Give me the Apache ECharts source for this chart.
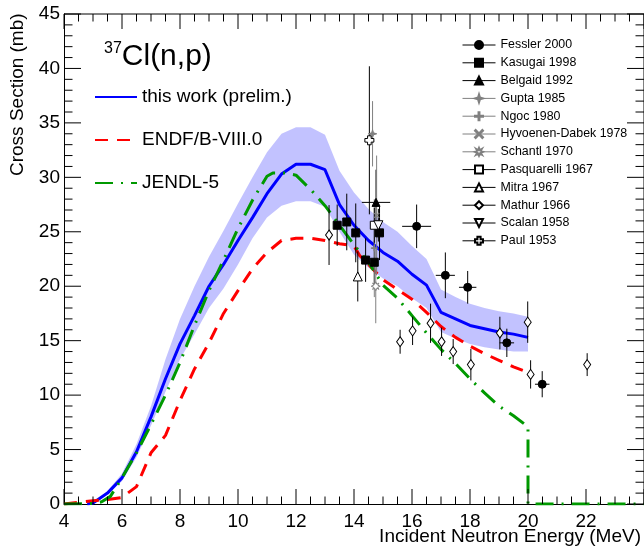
<!DOCTYPE html>
<html>
<head>
<meta charset="utf-8">
<script src="https://cdn.jsdelivr.net/npm/echarts@6/dist/echarts.min.js"></script>
<style>
  html, body { margin: 0; padding: 0; background: #fff; }
  #chart { width: 644px; height: 546px; }
</style>
</head>
<body>
<div id="chart"></div>
<script>
const FONT = 'Liberation Sans';

// axis ranges and major ticks
const xRange = [4, 24];
const yRange = [0, 45];
const xMajor = [4, 6, 8, 10, 12, 14, 16, 18, 20, 22, 24];
const yMajor = [0, 5, 10, 15, 20, 25, 30, 35, 40, 45];

// this work (prelim.) with uncertainty band
const workE  = [4.8, 5.0, 5.5, 6.0, 6.5, 7.0, 7.5, 8.0, 8.5, 9.0, 9.5, 10.0, 10.5, 11.0, 11.5, 12.0, 12.5, 13.0, 13.5, 14.0, 14.5, 15.0, 15.5, 16.0, 16.5, 17.0, 17.5, 18.0, 18.5, 19.0, 19.5, 20.0];
const workXS = [0, 0.1, 1.0, 2.4, 4.8, 8.0, 11.5, 14.7, 17.3, 20.0, 22.0, 24.2, 26.3, 28.5, 30.3, 31.2, 31.2, 30.7, 27.5, 25.6, 24.2, 23.1, 22.3, 21.1, 20.1, 17.6, 17.0, 16.4, 16.1, 15.8, 15.6, 15.3];
const workHi = [0, 0.1, 1.2, 2.8, 5.5, 9.0, 13.3, 17.0, 20.0, 22.7, 25.1, 27.6, 30.0, 32.3, 34.0, 34.6, 34.6, 33.9, 30.6, 28.6, 27.1, 25.9, 25.0, 23.7, 22.5, 19.7, 19.0, 18.4, 18.0, 17.7, 17.5, 17.2];
const workLo = [0, 0.1, 0.9, 2.1, 4.3, 7.2, 10.3, 13.3, 15.6, 18.0, 19.8, 22.0, 24.4, 26.3, 27.4, 27.8, 27.8, 27.3, 25.0, 22.9, 21.7, 20.7, 20.0, 18.9, 18.0, 15.8, 15.2, 14.7, 14.4, 14.2, 14.0, 14.0];

// ENDF/B-VIII.0
const endfE  = [4.0, 5.0, 5.5, 6.0, 6.5, 7.0, 7.5, 8.0, 8.5, 9.0, 9.5, 10.0, 10.5, 11.0, 11.5, 12.0, 12.5, 13.0, 13.5, 14.0, 14.2, 14.5, 15.0, 15.5, 16.0, 16.5, 17.0, 17.5, 18.0, 18.5, 19.0, 19.5, 20.0];
const endfXS = [0, 0.3, 0.4, 0.6, 1.6, 4.7, 6.3, 9.5, 12.4, 14.8, 17.5, 19.6, 21.6, 23.1, 24.2, 24.4, 24.4, 24.2, 23.9, 23.7, 22.8, 22.0, 20.6, 19.7, 18.8, 17.6, 16.3, 15.3, 14.5, 13.8, 13.2, 12.6, 12.1];

// JENDL-5
const jendlE  = [4.0, 5.0, 5.3, 5.6, 6.0, 6.5, 7.0, 7.5, 8.0, 8.5, 9.0, 9.5, 10.0, 10.5, 11.0, 11.2, 11.6, 12.0, 12.5, 13.0, 13.5, 14.0, 14.5, 15.0, 15.5, 16.0, 16.5, 17.0, 17.5, 18.0, 18.5, 19.0, 19.5, 20.0, 20.0, 24.0];
const jendlXS = [0, 0.05, 0.2, 0.7, 2.4, 4.7, 7.3, 10.0, 13.0, 16.4, 19.6, 22.4, 25.3, 27.9, 30.1, 30.4, 30.4, 30.2, 28.9, 27.4, 25.6, 23.8, 22.2, 20.1, 18.9, 17.3, 15.7, 14.2, 12.9, 11.5, 10.2, 9.0, 8.1, 7.1, 0, 0];

// experimental data: energy, cross section, errors
const fesslerE = [16.16, 17.15, 17.92, 19.27, 20.49];
const fesslerXS = [25.5, 21.0, 19.9, 14.8, 11.0];
const fesslerDE = [0.5, 0.33, 0.3, 0.25, 0.25];
const fesslerDXS = [2.0, 2.1, 1.5, 1.3, 1.2];

const kasugaiE = [13.42, 13.75, 14.06, 14.40, 14.70, 14.88];
const kasugaiXS = [25.6, 25.9, 24.9, 22.4, 22.2, 24.9];
const kasugaiDXS = [1.9, 2.6, 2.7, 2.0, 2.0, 2.5];

const belgaidE = [14.76];
const belgaidXS = [27.7];
const belgaidDE = [0.49];
const belgaidDXS = [3.0];

const guptaE = [14.64];
const guptaXS = [34.0];
const guptaDE = [0.14];
const guptaDXS = [3.0];

const ngocE = [14.70];
const ngocXS = [23.5];
const ngocDXS = [4.5];

const hyvoE = [14.78];
const hyvoXS = [26.5];
const hyvoDXS = [5.5];

const schantlE = [14.75];
const schantlXS = [20.0];
const schantlDXS = [3.4];

const pasqE = [14.70];
const pasqXS = [25.6];
const pasqDXS = [1.6];

const mitraE = [14.13];
const mitraXS = [20.9];
const mitraDXS = [2.3];

const mathurE = [13.14, 15.59, 16.02, 16.64, 17.02, 17.42, 18.03, 19.03, 19.99, 20.09, 22.04];
const mathurXS = [24.7, 14.9, 15.9, 16.6, 14.9, 14.0, 12.8, 15.7, 16.7, 11.9, 12.8];
const mathurDXS = [2.75, 1.1, 1.3, 1.8, 1.3, 1.15, 1.45, 1.5, 1.9, 1.3, 1.05];

const scalanE = [14.84];
const scalanXS = [25.6];
const scalanDXS = [1.5];

const paulE = [14.53];
const paulXS = [33.4];
const paulDXS = [6.8];

const GRAY = '#808080';

// symbol paths
const STAR4 = 'path://M0,-5L1.2,-1.2L5,0L1.2,1.2L0,5L-1.2,1.2L-5,0L-1.2,-1.2Z';
const PLUS = 'path://M-0.6,-5L0.6,-5L0.6,-0.6L5,-0.6L5,0.6L0.6,0.6L0.6,5L-0.6,5L-0.6,0.6L-5,0.6L-5,-0.6L-0.6,-0.6Z';
const XMARK = 'path://M-5,-4.2L-4.2,-5L0,-0.8L4.2,-5L5,-4.2L0.8,0L5,4.2L4.2,5L0,0.8L-4.2,5L-5,4.2L-0.8,0Z';
const STAR8 = 'path://M0,-5L1.2,-2.2L3.5,-3.5L2.2,-1.2L5,0L2.2,1.2L3.5,3.5L1.2,2.2L0,5L-1.2,2.2L-3.5,3.5L-2.2,1.2L-5,0L-2.2,-1.2L-3.5,-3.5L-1.2,-2.2Z';
const CLOVER = 'path://M-2,-5L2,-5L2,-2L5,-2L5,2L2,2L2,5L-2,5L-2,2L-5,2L-5,-2L-2,-2Z';

// minor ticks: split each major interval
function minors(major, n) {
  const out = [];
  for (let i = 0; i < major.length - 1; i++) {
    const step = (major[i + 1] - major[i]) / n;
    for (let k = 1; k < n; k++) out.push(major[i] + k * step);
  }
  return out;
}
const xMinor = minors(xMajor, 4);
const yMinor = minors(yMajor, 5);

function errBars(name, E, XS, DE, DXS, color) {
  return {
    type: 'custom',
    name: name + ' err',
    xAxisIndex: 0, yAxisIndex: 0,
    z: 4, silent: true, clip: true,
    data: E.map((e, i) => [e, XS[i], DE ? DE[i] : 0, DXS ? DXS[i] : 0]),
    renderItem(params, api) {
      const x = api.value(0), y = api.value(1), dx = api.value(2), dy = api.value(3);
      const kids = [];
      if (dy) {
        const a = api.coord([x, y - dy]), b = api.coord([x, y + dy]);
        kids.push({ type: 'line', shape: { x1: a[0], y1: a[1], x2: b[0], y2: b[1] }, style: { stroke: color, lineWidth: 1 } });
      }
      if (dx) {
        const a = api.coord([x - dx, y]), b = api.coord([x + dx, y]);
        kids.push({ type: 'line', shape: { x1: a[0], y1: a[1], x2: b[0], y2: b[1] }, style: { stroke: color, lineWidth: 1 } });
      }
      return { type: 'group', children: kids };
    }
  };
}

function markers(name, E, XS, symbol, size, fill, stroke, rotate) {
  return {
    name, type: 'line', xAxisIndex: 0, yAxisIndex: 0,
    data: E.map((e, i) => [e, XS[i]]),
    symbol, symbolSize: size, symbolRotate: rotate || 0, showSymbol: true,
    lineStyle: { width: 0 },
    itemStyle: { color: fill, borderColor: stroke, borderWidth: 1 },
    z: 6, silent: true
  };
}

const expSets = [
  ['Fessler 2000', fesslerE, fesslerXS, fesslerDE, fesslerDXS, 'circle', 8, '#000', '#000', 0, '#000'],
  ['Kasugai 1998', kasugaiE, kasugaiXS, null, kasugaiDXS, 'rect', 8, '#000', '#000', 0, '#000'],
  ['Belgaid 1992', belgaidE, belgaidXS, belgaidDE, belgaidDXS, 'triangle', 8, '#000', '#000', 0, '#000'],
  ['Gupta 1985', guptaE, guptaXS, guptaDE, guptaDXS, STAR4, 8, GRAY, GRAY, 0, GRAY],
  ['Ngoc 1980', ngocE, ngocXS, null, ngocDXS, PLUS, 6, GRAY, GRAY, 0, GRAY],
  ['Hyvoenen-Dabek 1978', hyvoE, hyvoXS, null, hyvoDXS, XMARK, 5, GRAY, GRAY, 0, GRAY],
  ['Schantl 1970', schantlE, schantlXS, null, schantlDXS, STAR8, 9, '#fff', GRAY, 0, GRAY],
  ['Pasquarelli 1967', pasqE, pasqXS, null, pasqDXS, 'rect', 8, '#fff', '#000', 0, '#000'],
  ['Mitra 1967', mitraE, mitraXS, null, mitraDXS, 'triangle', 9, '#fff', '#000', 0, '#000'],
  ['Mathur 1966', mathurE, mathurXS, null, mathurDXS, 'diamond', [7, 10], '#fff', '#000', 0, '#000'],
  ['Scalan 1958', scalanE, scalanXS, null, scalanDXS, 'triangle', 9, '#fff', '#000', 180, '#000'],
  ['Paul 1953', paulE, paulXS, null, paulDXS, CLOVER, 9, '#fff', '#000', 0, '#000']
];

const xy = (E, XS) => E.map((e, i) => [e, XS[i]]);

// frame with inward ticks on all four sides, placed through the grid's scales
const frame = {
  type: 'custom', name: 'frame', z: 10, silent: true, clip: false,
  xAxisIndex: 0, yAxisIndex: 0,
  data: [[xRange[0], yRange[0]]],
  renderItem(params, api) {
    const kids = [];
    const seg = (x1, y1, x2, y2) => kids.push({
      type: 'line', shape: { x1, y1, x2, y2 }, style: { stroke: '#000', lineWidth: 1 }
    });
    const tl = api.coord([xRange[0], yRange[1]]);
    const br = api.coord([xRange[1], yRange[0]]);
    seg(tl[0], tl[1], br[0], tl[1]);
    seg(br[0], tl[1], br[0], br[1]);
    const xt = (vals, len) => vals.forEach(v => {
      const b = api.coord([v, yRange[0]]), t = api.coord([v, yRange[1]]);
      seg(b[0], b[1], b[0], b[1] - len);
      seg(t[0], t[1], t[0], t[1] + len);
    });
    const yt = (vals, len) => vals.forEach(v => {
      const l = api.coord([xRange[0], v]), r = api.coord([xRange[1], v]);
      seg(l[0], l[1], l[0] + len, l[1]);
      seg(r[0], r[1], r[0] - len, r[1]);
    });
    xt(xMajor, 15); xt(xMinor, 7.5);
    yt(yMajor, 17); yt(yMinor, 8.5);
    return { type: 'group', children: kids };
  }
};

const series = [
  {
    type: 'custom', name: 'band', z: 1, silent: true, clip: true,
    xAxisIndex: 0, yAxisIndex: 0,
    data: [[workE[0], workLo[0]]],
    renderItem(params, api) {
      const pts = [];
      workE.forEach((e, i) => pts.push(api.coord([e, workHi[i]])));
      for (let i = workE.length - 1; i >= 0; i--) pts.push(api.coord([workE[i], workLo[i]]));
      return { type: 'polygon', shape: { points: pts }, style: { fill: 'rgba(0,0,255,0.24)' } };
    }
  },
  {
    name: 'this work (prelim.)', type: 'line', data: xy(workE, workXS), symbol: 'none',
    lineStyle: { color: '#0000ff', width: 3 }, itemStyle: { color: '#0000ff' }, z: 3
  },
  {
    name: 'ENDF/B-VIII.0', type: 'line', data: xy(endfE, endfXS), symbol: 'none',
    lineStyle: { color: '#ff0000', width: 3, type: [13, 9] }, itemStyle: { color: '#ff0000' }, z: 3
  },
  {
    name: 'JENDL-5', type: 'line', data: xy(jendlE, jendlXS), symbol: 'none',
    lineStyle: { color: '#009900', width: 3, type: [18, 8, 2, 8] }, itemStyle: { color: '#009900' }, z: 3
  },
  frame
];

expSets.forEach(s => {
  series.push(errBars(s[0], s[1], s[2], s[3], s[4], s[10]));
});
expSets.forEach(s => {
  series.push(markers(s[0], s[1], s[2], s[5], s[6], s[7], s[8], s[9]));
});

const tickText = { fontFamily: FONT, fontSize: 19, color: '#000' };

const chart = echarts.init(document.getElementById('chart'), null, { renderer: 'canvas' });
chart.setOption({
  animation: false,
  backgroundColor: '#fff',
  grid: { left: 64, right: -1, top: 14, bottom: 42 },
  title: {
    text: '{s|37}{m|Cl(n,p)}',
    left: 99, top: 36,
    textStyle: {
      rich: {
        s: { fontFamily: FONT, fontSize: 16, fontWeight: 'normal', color: '#000', verticalAlign: 'top', lineHeight: 31 },
        m: { fontFamily: FONT, fontSize: 30, fontWeight: 'normal', color: '#000', lineHeight: 31 }
      }
    }
  },
  legend: [
    {
      orient: 'vertical', left: 89, top: 82,
      itemWidth: 42, itemHeight: 14, itemGap: 23,
      selectedMode: false,
      textStyle: { fontFamily: FONT, fontSize: 19, color: '#000', lineHeight: 20 },
      data: ['this work (prelim.)', 'ENDF/B-VIII.0', 'JENDL-5'].map(n => ({ name: n, itemStyle: { opacity: 0 } }))
    },
    {
      orient: 'vertical', left: 457, top: 33,
      itemWidth: 33, itemHeight: 10, itemGap: 3.8,
      selectedMode: false,
      textStyle: { fontFamily: FONT, fontSize: 12.4, color: '#000', lineHeight: 14 },
      data: expSets.map(s => ({ name: s[0], lineStyle: { color: s[10], width: 1, type: 'solid', opacity: 1 } }))
    }
  ],
  xAxis: {
    type: 'value', min: xRange[0], max: xRange[1], interval: 2,
    axisLine: { show: true, onZero: false, lineStyle: { color: '#000', width: 1 } },
    axisTick: { show: false },
    axisLabel: Object.assign({ show: true, margin: 8, showMaxLabel: false }, tickText),
    splitLine: { show: false }
  },
  yAxis: {
    type: 'value', min: yRange[0], max: yRange[1], interval: 5,
    axisLine: { show: true, onZero: false, lineStyle: { color: '#000', width: 1 } },
    axisTick: { show: false },
    axisLabel: Object.assign({ show: true, margin: 4 }, tickText),
    splitLine: { show: false }
  },
  graphic: [
    {
      type: 'text', x: 641, y: 527,
      style: { text: 'Incident Neutron Energy (MeV)', font: '19px "Liberation Sans"', fill: '#000', align: 'right', verticalAlign: 'top' }
    },
    {
      type: 'text', x: 8, y: 176, rotation: Math.PI / 2,
      style: { text: 'Cross Section (mb)', font: '19px "Liberation Sans"', fill: '#000', align: 'left', verticalAlign: 'top' }
    }
  ],
  series: series
});
</script>
</body>
</html>
